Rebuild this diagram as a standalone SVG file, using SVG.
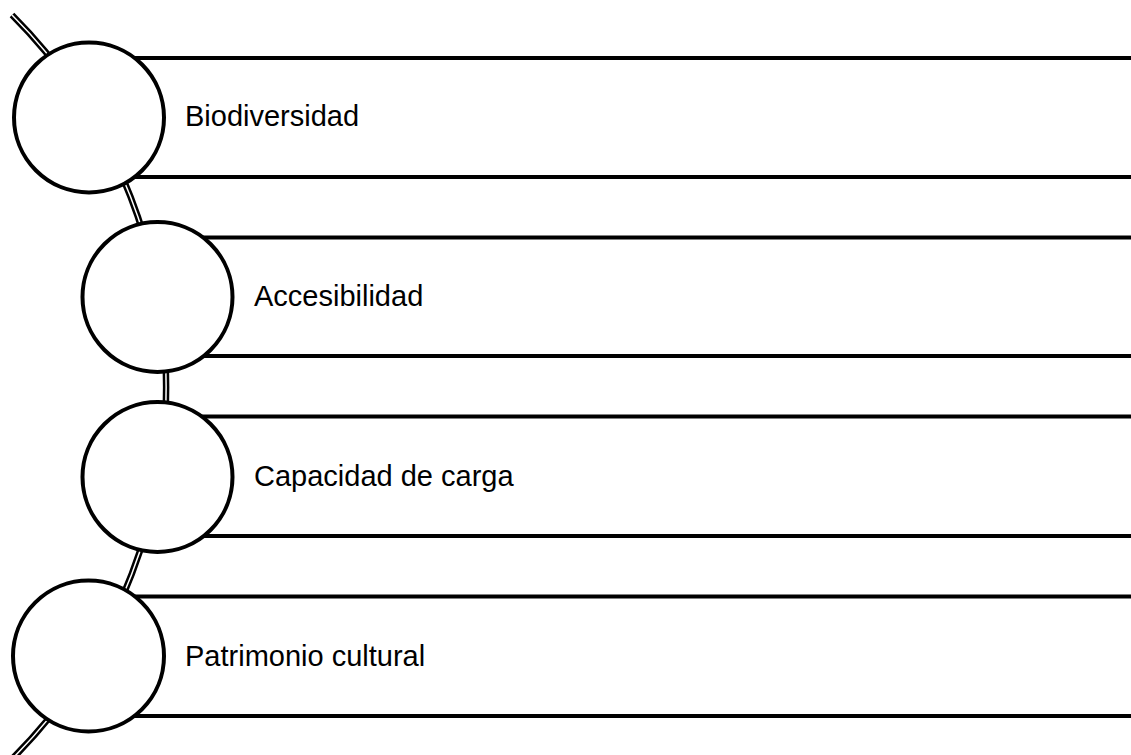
<svg xmlns="http://www.w3.org/2000/svg" width="1131" height="755" viewBox="0 0 1131 755">
<style>
.bg{fill:#ffffff}
.bar{stroke:#000;stroke-width:3.8;fill:none}
.node{fill:#fff;stroke:#000;stroke-width:4}
.lbl{font-family:"Liberation Sans",Arial,sans-serif;font-size:29px;fill:#000}
.arcO{fill:none;stroke:#000;stroke-width:6.5}
.arcI{fill:none;stroke:#fff;stroke-width:1.5}
</style>
<rect class="bg" x="0" y="0" width="1131" height="755"/>
<g id="connectors">
<path class="arcO" d="M 12 15 A 526 526 0 0 1 12 759"/>
<path class="arcI" d="M 12 15 A 526 526 0 0 1 12 759"/>
</g>
<g id="node-biodiversidad">
<line class="bar" x1="89" y1="58" x2="1131" y2="58"/>
<line class="bar" x1="89" y1="177" x2="1131" y2="177"/>
<circle class="node" cx="89" cy="117.5" r="75"/>
<text class="lbl" x="185" y="126">Biodiversidad</text>
</g>
<g id="node-accesibilidad">
<line class="bar" x1="157.5" y1="237.5" x2="1131" y2="237.5"/>
<line class="bar" x1="157.5" y1="356" x2="1131" y2="356"/>
<circle class="node" cx="157.5" cy="297" r="75"/>
<text class="lbl" x="254" y="305.5">Accesibilidad</text>
</g>
<g id="node-capacidad">
<line class="bar" x1="157.5" y1="416.5" x2="1131" y2="416.5"/>
<line class="bar" x1="157.5" y1="536" x2="1131" y2="536"/>
<circle class="node" cx="157.5" cy="477" r="75"/>
<text class="lbl" x="254" y="485.5">Capacidad de carga</text>
</g>
<g id="node-patrimonio">
<line class="bar" x1="88.5" y1="596.5" x2="1131" y2="596.5"/>
<line class="bar" x1="88.5" y1="716" x2="1131" y2="716"/>
<circle class="node" cx="88.5" cy="656" r="75.5"/>
<text class="lbl" x="185" y="665.5">Patrimonio cultural</text>
</g>
</svg>
